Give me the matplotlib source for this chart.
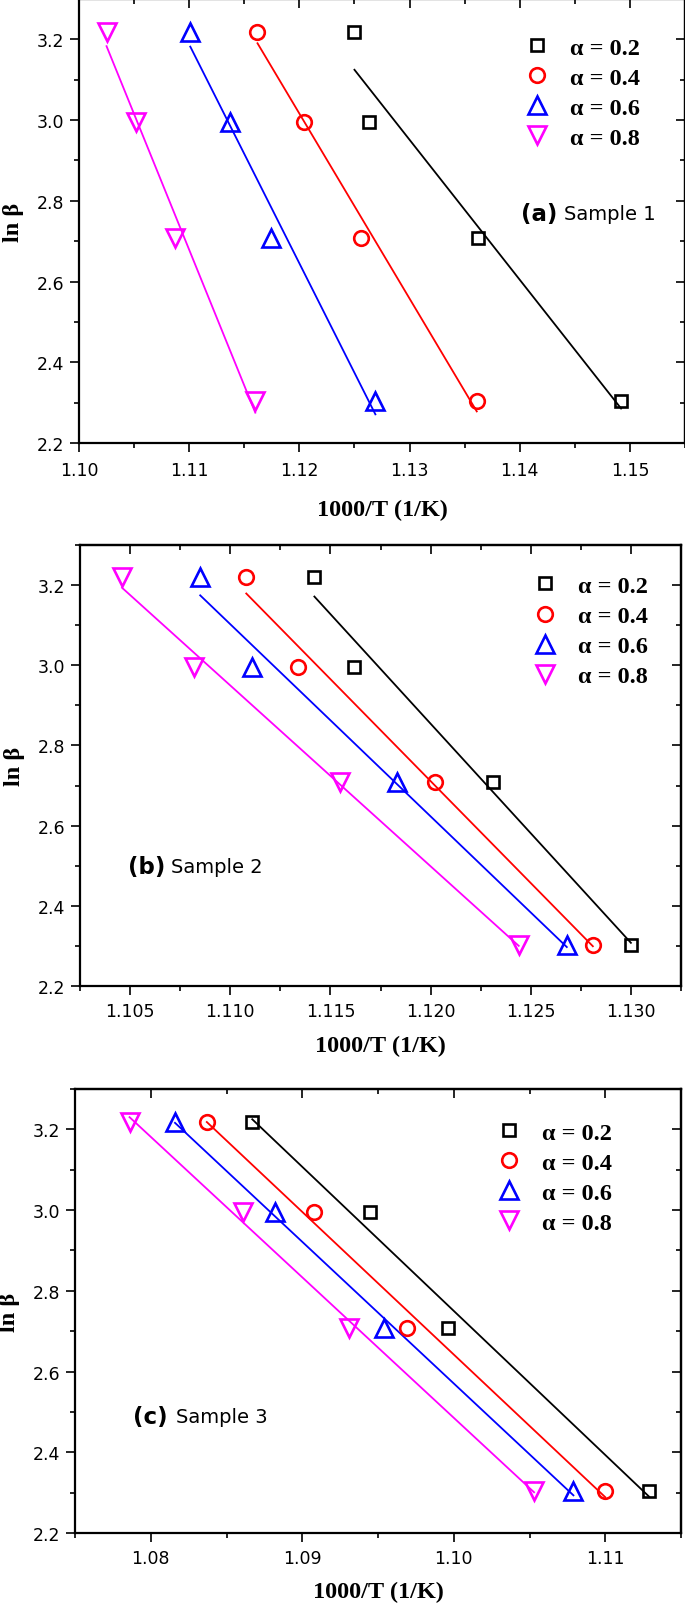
import numpy as np
import matplotlib
matplotlib.use("Agg")
import matplotlib.pyplot as plt
from matplotlib.ticker import MultipleLocator, FormatStrFormatter

# ---- data ----
ln_beta = [3.219, 2.996, 2.708, 2.303]
alpha_labels = ["α = 0.2", "α = 0.4", "α = 0.6", "α = 0.8"]

a_x02 = [1.1250, 1.1263, 1.1362, 1.1492]
a_x04 = [1.1162, 1.1204, 1.1256, 1.1361]
a_x06 = [1.1101, 1.1137, 1.1174, 1.1269]
a_x08 = [1.1025, 1.1052, 1.1087, 1.1160]

b_x02 = [1.1142, 1.1162, 1.1231, 1.1300]
b_x04 = [1.1108, 1.1134, 1.1202, 1.1281]
b_x06 = [1.1085, 1.1111, 1.1183, 1.1268]
b_x08 = [1.1046, 1.1082, 1.1155, 1.1244]

c_x02 = [1.0867, 1.0945, 1.0996, 1.1129]
c_x04 = [1.0837, 1.0908, 1.0969, 1.1100]
c_x06 = [1.0816, 1.0882, 1.0954, 1.1079]
c_x08 = [1.0786, 1.0861, 1.0931, 1.1053]

panel_tags = ["(a)", "(b)", "(c)"]
panel_names = ["Sample 1", "Sample 2", "Sample 3"]

# ---- styles ----
colors = ["black", "#ff0000", "#0000ff", "#ff00ff"]
markers = ["s", "o", "^", "v"]
msizes = [8.6, 10.5, 12.5, 12.5]

W, H = 685, 1608
fig = plt.figure(figsize=(W / 100, H / 100), dpi=100)

def frac(l, t, r, b):
    return [l / W, 1 - b / H, (r - l) / W, (b - t) / H]

panels = [
    dict(rect=frac(79, 0, 685, 444), xs=[a_x02, a_x04, a_x06, a_x08], xlim=(1.10, 1.155),
         major=0.01, minor=0.005, fmt="%.2f", leg=(0.736, 0.915), txt=(1.1401, 2.769),
         pad=6.5, lpad=14),
    dict(rect=frac(80, 546, 681, 987), xs=[b_x02, b_x04, b_x06, b_x08], xlim=(1.1025, 1.1325),
         major=0.005, minor=0.0025, fmt="%.3f", leg=(0.754, 0.932), txt=(1.1049, 2.498),
         pad=5, lpad=10.5),
    dict(rect=frac(75, 1090, 681, 1534), xs=[c_x02, c_x04, c_x06, c_x08], xlim=(1.075, 1.115),
         major=0.01, minor=0.005, fmt="%.2f", leg=(0.697, 0.926), txt=(1.0788, 2.489),
         pad=5, lpad=10),
]

serif = "Liberation Serif"
sans = "DejaVu Sans"

for i, p in enumerate(panels):
    ax = fig.add_axes(p["rect"])
    handles = []
    for xs, c, m, ms, lab in zip(p["xs"], colors, markers, msizes, alpha_labels):
        x = np.array(xs)
        y = np.array(ln_beta)
        k, b0 = np.polyfit(x, y, 1)
        xf = np.array([x.min(), x.max()])
        ax.plot(xf, k * xf + b0, color=c, lw=1.3, zorder=2)
        h, = ax.plot(x, y, linestyle="none", marker=m, ms=ms, mfc="none", mec=c,
                     mew=1.9, label=lab, zorder=3)
        handles.append(h)
    ax.set_xlim(*p["xlim"])
    ax.set_ylim(2.2, 3.3)
    ax.xaxis.set_major_locator(MultipleLocator(p["major"]))
    ax.xaxis.set_minor_locator(MultipleLocator(p["minor"]))
    ax.xaxis.set_major_formatter(FormatStrFormatter(p["fmt"]))
    ax.yaxis.set_major_locator(MultipleLocator(0.2))
    ax.yaxis.set_minor_locator(MultipleLocator(0.1))
    ax.yaxis.set_major_formatter(FormatStrFormatter("%.1f"))
    ax.tick_params(which="both", direction="out", width=1.2)
    ax.tick_params(which="major", length=6.5)
    ax.tick_params(which="minor", length=3.5)
    ax.tick_params(axis="x", pad=p["pad"])
    ax.tick_params(axis="y", pad=4)
    for lab in ax.get_xticklabels() + ax.get_yticklabels():
        lab.set_fontfamily(sans)
        lab.set_fontsize(12.5)
    for s in ax.spines.values():
        s.set_linewidth(1.6)

    top = ax.secondary_xaxis("top")
    top.xaxis.set_major_locator(MultipleLocator(p["major"]))
    top.xaxis.set_minor_locator(MultipleLocator(p["minor"]))
    top.tick_params(which="both", direction="in", width=1.2, labeltop=False)
    top.tick_params(which="major", length=6.5)
    top.tick_params(which="minor", length=3.5)
    top.spines["top"].set_linewidth(1.6)
    right = ax.secondary_yaxis("right")
    right.yaxis.set_major_locator(MultipleLocator(0.2))
    right.yaxis.set_minor_locator(MultipleLocator(0.1))
    right.tick_params(which="both", direction="in", width=1.2, labelright=False)
    right.tick_params(which="major", length=6.5)
    right.tick_params(which="minor", length=3.5)
    right.spines["right"].set_linewidth(1.6)

    ax.set_xlabel("1000/T (1/K)", fontfamily=serif, fontweight="bold", fontsize=17.5,
                  labelpad=p["lpad"])
    ax.set_ylabel("ln β", fontfamily=serif, fontweight="bold", fontsize=17.5, labelpad=9)

    ax.legend(handles=handles, loc="upper left", bbox_to_anchor=p["leg"], frameon=False,
              prop=dict(family=serif, weight="bold", size=17.5), borderpad=0, borderaxespad=0,
              handlelength=0.95, handletextpad=0.9, labelspacing=0.33, markerscale=1.0)

    tx, ty = p["txt"]
    ax.text(tx, ty, panel_tags[i], fontfamily=sans, fontweight="bold", fontsize=16.5,
            ha="left", va="center")
    ax.annotate(panel_names[i], xy=(tx, ty), xytext=(31, 0), textcoords="offset points",
                fontfamily=sans, fontsize=14, ha="left", va="center")

fig.savefig("out.png", dpi=100)
